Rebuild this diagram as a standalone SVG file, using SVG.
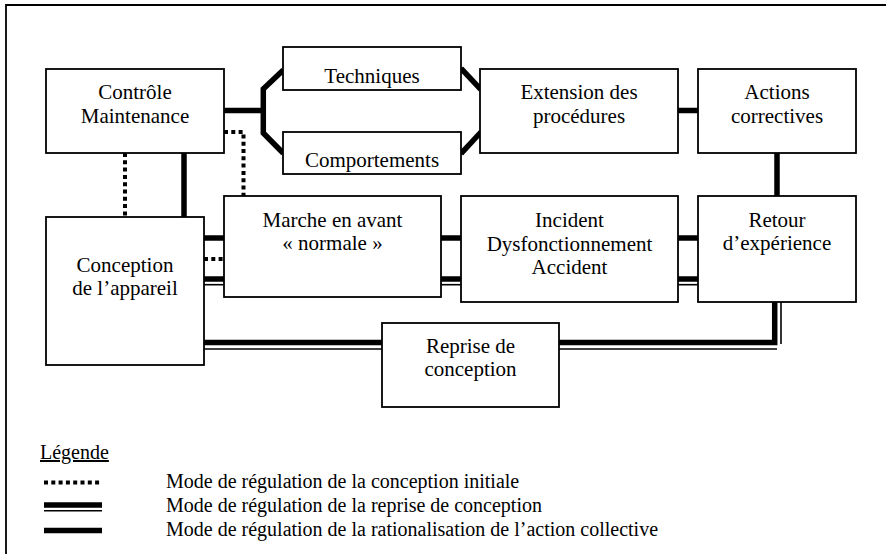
<svg xmlns="http://www.w3.org/2000/svg" width="886" height="554" viewBox="0 0 886 554">
<style>
.box{fill:#fff;stroke:#000;stroke-width:1.8}
.t{font-family:"Liberation Serif","Times New Roman",serif;font-size:21px;fill:#000;text-anchor:middle}
.lt{font-family:"Liberation Serif","Times New Roman",serif;font-size:20px;fill:#000}
.thick{fill:none;stroke:#000;stroke-width:5.5}
.thin{fill:none;stroke:#000;stroke-width:1.6}
.dot{fill:none;stroke:#000;stroke-width:4;stroke-dasharray:4 3.3}
.ldot{fill:none;stroke:#000;stroke-width:3.8;stroke-dasharray:4 3.3}
</style>
<rect x="0" y="0" width="886" height="554" fill="#fff"/>
<path d="M6,554 V5 H886" fill="none" stroke="#000" stroke-width="1.8"/>

<g id="connectors">
  <!-- rationalisation (solid thick) -->
  <path class="thick" d="M224,110.5 H263"/>
  <path class="thick" d="M283.3,70 L263.3,89 V133 L283.3,153.3"/>
  <path class="thick" d="M461,68.3 L480.7,89.3"/>
  <path class="thick" d="M461,153.7 L481,132"/>
  <path class="thick" d="M678,110.5 H698"/>
  <path class="thick" d="M777,153 V196"/>
  <path class="thick" d="M184,153 V217"/>
  <path class="thick" d="M204,238 H224"/>
  <path class="thick" d="M441,238 H461"/>
  <path class="thick" d="M678,238 H698"/>
  <!-- reprise de conception (double) -->
  <path class="thick" d="M204,279 H224"/>
  <path class="thin" d="M204,284.7 H224"/>
  <path class="thick" d="M441,279 H461"/>
  <path class="thin" d="M441,284.7 H461"/>
  <path class="thick" d="M678,279 H698"/>
  <path class="thin" d="M678,284.7 H698"/>
  <path class="thick" d="M204,342.5 H382"/>
  <path class="thin" d="M204,349 H382"/>
  <path class="thick" d="M559,342.5 H774.7 V302"/>
  <path class="thin" d="M559,349 H777"/>
  <path class="thin" d="M781,302 V344"/>
  <!-- conception initiale (dotted) -->
  <path class="dot" d="M125,153 V217"/>
  <path class="dot" d="M224,132 H243.5 V196"/>
  <path class="dot" d="M204,259 H224"/>
</g>

<g id="controle">
  <rect class="box" x="46" y="69" width="178" height="84"/>
  <text class="t" x="135" y="99">Contrôle</text>
  <text class="t" x="135" y="123">Maintenance</text>
</g>
<g id="techniques">
  <rect class="box" x="283" y="47" width="178" height="43"/>
  <text class="t" x="372" y="83">Techniques</text>
</g>
<g id="comportements">
  <rect class="box" x="283" y="132" width="178" height="42"/>
  <text class="t" x="372" y="167">Comportements</text>
</g>
<g id="extension">
  <rect class="box" x="480" y="69" width="198" height="84"/>
  <text class="t" x="579" y="99">Extension des</text>
  <text class="t" x="579" y="123">procédures</text>
</g>
<g id="actions">
  <rect class="box" x="698" y="69" width="158" height="84"/>
  <text class="t" x="777" y="99">Actions</text>
  <text class="t" x="777" y="123">correctives</text>
</g>
<g id="conception">
  <rect class="box" x="46" y="217" width="158" height="148"/>
  <text class="t" x="125" y="272">Conception</text>
  <text class="t" x="125" y="295">de l’appareil</text>
</g>
<g id="marche">
  <rect class="box" x="224" y="196" width="217" height="101"/>
  <text class="t" x="332.5" y="227">Marche en avant</text>
  <text class="t" x="332.5" y="250">« normale »</text>
</g>
<g id="incident">
  <rect class="box" x="461" y="196" width="217" height="106"/>
  <text class="t" x="569.5" y="227">Incident</text>
  <text class="t" x="569.5" y="251">Dysfonctionnement</text>
  <text class="t" x="569.5" y="274">Accident</text>
</g>
<g id="retour">
  <rect class="box" x="698" y="196" width="158" height="106"/>
  <text class="t" x="777" y="227">Retour</text>
  <text class="t" x="777" y="250">d’expérience</text>
</g>
<g id="reprise">
  <rect class="box" x="382" y="323" width="177" height="84"/>
  <text class="t" x="470.5" y="353">Reprise de</text>
  <text class="t" x="470.5" y="376">conception</text>
</g>

<g id="legende">
  <text class="lt" x="40" y="459" text-decoration="underline">Légende</text>
  <path class="ldot" d="M44,482.5 H102"/>
  <path class="thick" d="M44,505 H102"/>
  <path class="thin" d="M44,510.7 H102"/>
  <path class="thick" d="M44,530.5 H102"/>
  <text class="lt" x="166" y="488">Mode de régulation de la conception initiale</text>
  <text class="lt" x="166" y="512">Mode de régulation de la reprise de conception</text>
  <text class="lt" x="166" y="536">Mode de régulation de la rationalisation de l’action collective</text>
</g>
</svg>
